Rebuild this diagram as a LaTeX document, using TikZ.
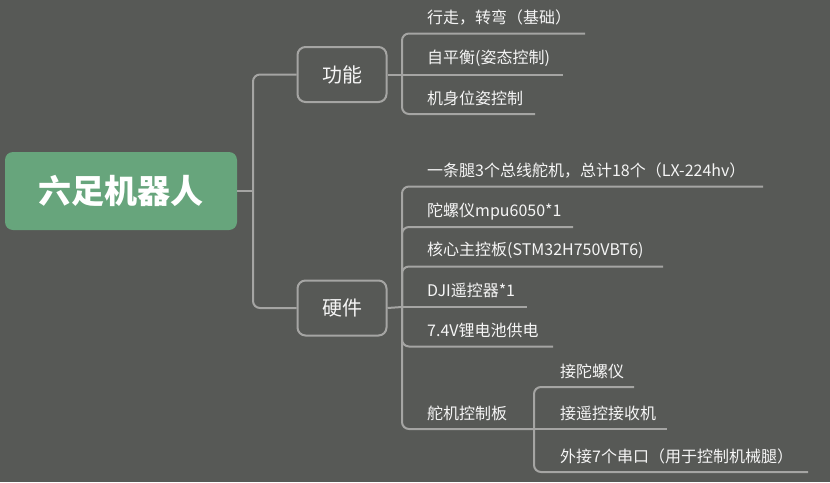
\documentclass[tikz,border=0pt]{standalone}
\usepackage{fontspec}
\setmainfont{Noto Sans CJK SC}
\usepackage{tikz}

\definecolor{fondo}{RGB}{87,89,86}
\definecolor{raiz}{RGB}{103,165,124}
\definecolor{linea}{RGB}{165,165,163}
\definecolor{texto}{RGB}{245,245,245}

\begin{document}
\begin{tikzpicture}[x=1pt, y=-1pt,
    link/.style={draw=linea, line width=2pt, rounded corners=7pt},
    hoja/.style={anchor=west, inner sep=0pt, text=texto, font=\fontsize{16}{18}\selectfont},
    rama/.style={draw=linea, line width=2pt, rounded corners=8pt, fill=fondo, text=texto,
        minimum width=89pt, minimum height=55pt, font=\fontsize{20}{22}\selectfont}]
            % Fondo
            \fill[fondo] (0,0) rectangle (830,482);
            \useasboundingbox (0,0) rectangle (830,482);

            % Nodo central
            \node[fill=raiz, rounded corners=8pt, minimum width=232pt, minimum height=78pt,
                text=white, font=\fontsize{33}{36}\selectfont\bfseries] (robot) at (121,191) {六足机器人};
            \node[rama] (func) at (342,74.5) {功能};
            \node[rama] (hw) at (342,308) {硬件};

            % Hojas
            \node[hoja] (f1) at (427,18) {行走，转弯（基础）};
            \node[hoja] (f2) at (427,58) {自平衡(姿态控制)};
            \node[hoja] (f3) at (427,98) {机身位姿控制};
            \node[hoja] (h1) at (427,171) {一条腿3个总线舵机，总计18个（LX-224hv）};
            \node[hoja] (h2) at (427,211.5) {陀螺仪mpu6050*1};
            \node[hoja] (h3) at (427,250.5) {核心主控板(STM32H750VBT6)};
            \node[hoja] (h4) at (427,290.5) {DJI遥控器*1};
            \node[hoja] (h5) at (427,330.5) {7.4V锂电池供电};
            \node[hoja] (h6) at (427,413) {舵机控制板};
            \node[hoja] (s1) at (560,371) {接陀螺仪};
            \node[hoja] (s2) at (560,413) {接遥控接收机};
            \node[hoja] (s3) at (560,456.5) {外接7个串口（用于控制机械腿）};

            % Puntos de las lineas
            \coordinate (tronco) at (253,191);
            \coordinate (fhub) at (402,74.5);
            \coordinate (hhub) at (402,307);
            \coordinate (shub) at (534,429);
            \coordinate (fu1) at (585,33.5);
            \coordinate (fu2) at (563,74.5);
            \coordinate (fu3) at (535,114);
            \coordinate (hu1) at (763,186.5);
            \coordinate (hu2) at (573,227);
            \coordinate (hu3) at (663,266.5);
            \coordinate (hu4) at (527,307);
            \coordinate (hu5) at (553,346.5);
            \coordinate (su1) at (634,387);
            \coordinate (su2) at (667,429);
            \coordinate (su3) at (808,472);

            % Conectores
            \draw[link] (robot.east) -- (tronco);
            \draw[link] (tronco) |- (func.west);
            \draw[link] (tronco) |- (hw.west);
            \draw[link] (func.east) -- (fhub);
            \draw[link] (fhub) |- (fu1);
            \draw[link] (fhub) -- (fu2);
            \draw[link] (fhub) |- (fu3);
            \draw[link] (hw.east) -- (hhub);
            \draw[link] (hhub) |- (hu1);
            \draw[link] (hhub) |- (hu2);
            \draw[link] (hhub) |- (hu3);
            \draw[link] (hhub) -- (hu4);
            \draw[link] (hhub) |- (hu5);
            \draw[link] (hhub) |- (shub);
            \draw[link] (shub) |- (su1);
            \draw[link] (shub) -- (su2);
            \draw[link] (shub) |- (su3);
        \end{tikzpicture}
\end{document}
